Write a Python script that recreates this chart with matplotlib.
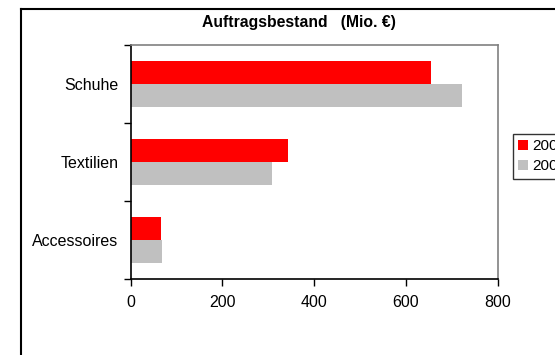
import matplotlib
matplotlib.use("Agg")
import matplotlib.pyplot as plt
from matplotlib.lines import Line2D
from matplotlib.patches import Patch
import numpy as np

plt.rcParams['font.family'] = ['Liberation Sans', 'DejaVu Sans']

categories = ["Schuhe", "Textilien", "Accessoires"]
series_names = ["2007", "2006"]
values_2007 = [654, 343, 66]
values_2006 = [722, 309, 68]
x_ticks = [0, 200, 400, 600, 800]
title = "Auftragsbestand   (Mio. €)"

W, H = 555, 355
fig = plt.figure(figsize=(W / 100, H / 100), dpi=100)

# outer chart frame
fig.add_artist(Line2D([21 / W, 21 / W], [0, 1 - 9 / H], color="black", lw=1.5, transform=fig.transFigure))
fig.add_artist(Line2D([21 / W, 1], [1 - 9 / H, 1 - 9 / H], color="black", lw=1.5, transform=fig.transFigure))

ax = fig.add_axes([130.7 / W, 1 - 279.3 / H, 367 / W, 234.6 / H])

n = len(categories)
pos = np.arange(n)[::-1] + 0.5  # Schuhe at top
h = 0.295
ax.barh(pos + h / 2, values_2007, height=h, color="#ff0000", label=series_names[0])
ax.barh(pos - h / 2, values_2006, height=h, color="#c0c0c0", label=series_names[1])

ax.set_xlim(0, 800)
ax.set_ylim(0, n)
ax.set_xticks(x_ticks)
ax.set_xticklabels([str(v) for v in x_ticks], fontsize=11.5)
ax.set_yticks(np.arange(n + 1))
ax.set_yticklabels([])
ax.set_yticks(pos, minor=True)
ax.set_yticklabels(categories, minor=True, fontsize=11.5)
ax.tick_params(axis="y", which="minor", length=0, pad=9)
ax.tick_params(axis="y", which="major", length=5, direction="out", width=1)
ax.tick_params(axis="x", length=5, direction="out", width=1, pad=6)

for s in ["top", "right"]:
    ax.spines[s].set_color("#808080")
    ax.spines[s].set_linewidth(1.2)
for s in ["left", "bottom"]:
    ax.spines[s].set_color("black")
    ax.spines[s].set_linewidth(1.2)

fig.text(299 / W, 1 - 22 / H, title, ha="center", va="center", fontsize=11.3, fontweight="bold")

handles = [Patch(facecolor="#ff0000", label=series_names[0]),
           Patch(facecolor="#c0c0c0", label=series_names[1])]
leg = fig.legend(handles=handles, loc="upper left", bbox_to_anchor=(513 / W, 1 - 134 / H),
                 fontsize=11, frameon=True, fancybox=False, handlelength=0.6, handleheight=0.6,
                 handletextpad=0.3, borderpad=0.35, labelspacing=0.4, borderaxespad=0)
leg.get_frame().set_edgecolor("black")
leg.get_frame().set_linewidth(1)

fig.savefig("out.png", dpi=100)
